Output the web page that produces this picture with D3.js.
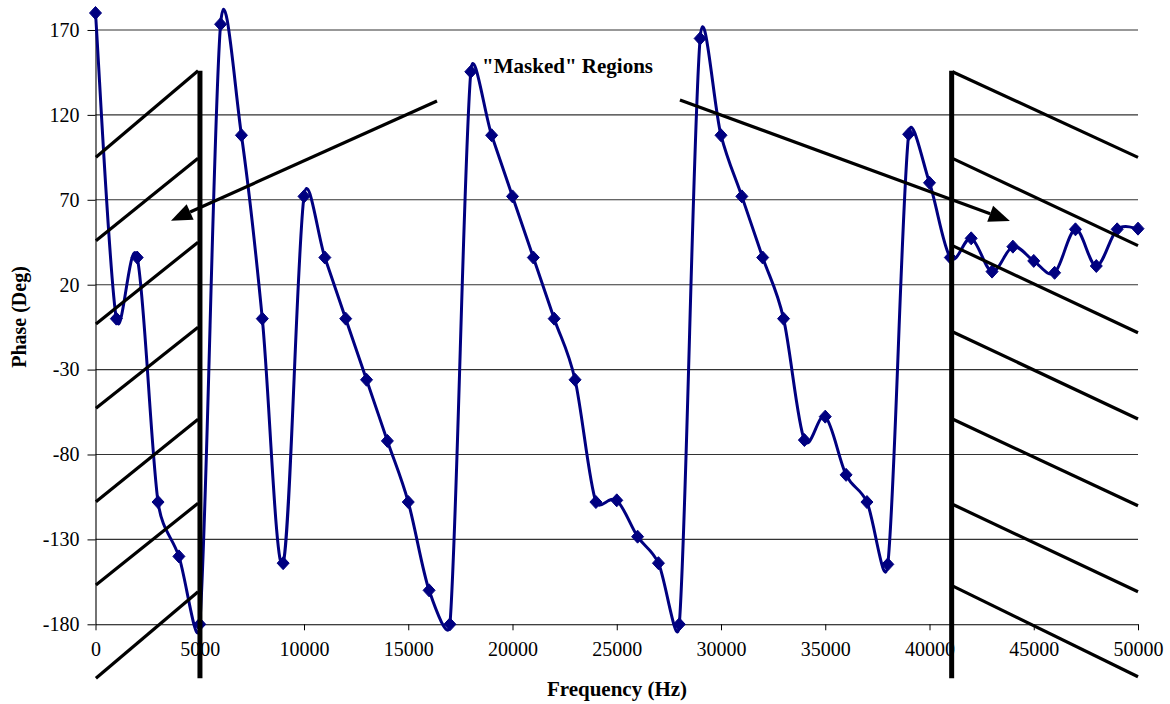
<!DOCTYPE html>
<html>
<head>
<meta charset="utf-8">
<script src="https://cdn.jsdelivr.net/npm/d3@7"></script>
<style>
  html, body { margin: 0; padding: 0; background: #fff; }
  svg { display: block; }
  text { font-family: "Liberation Serif", "Times New Roman", serif; fill: #000; }
</style>
</head>
<body>
<svg id="chart" width="1170" height="704"></svg>
<script>
// ---- Data ----
const frequencies = d3.range(0, 50001, 1000);
const phase = [
  180, 0, 36, -108, -140, -180, 173.4, 108, 0, -144,
  72, 36, 0, -36, -72, -108, -160, -180, 145.4, 108,
  72, 36, 0, -36, -108, -107, -128.4, -144, -180, 165,
  108, 72, 36, 0, -71.5, -57.7, -92, -108, -144.7, 108.6,
  80, 36, 47.3, 27.7, 42.4, 34, 27, 52.6, 31, 52.6,
  53
];
const xTicks = [0, 5000, 10000, 15000, 20000, 25000, 30000, 35000, 40000, 45000, 50000];
const yTicks = [-180, -130, -80, -30, 20, 70, 120, 170];

// Annotation shapes, in data units (Hz, deg)
const maskDividers = [
  [[5010, 146], [5010, -211.8]],
  [[41063, 146], [41063, -211.8]]
];
const leftHatches = [
  [[20, 95.0], [4920, 146.0]],
  [[20, 45.9], [4920, 94.4]],
  [[20, -3.1], [4920, 45.0]],
  [[20, -52.8], [4920, -5.1]],
  [[20, -107.8], [4920, -59.3]],
  [[20, -156.9], [4920, -108.7]],
  [[20, -211.8], [4920, -160.8]]
];
const rightHatches = [
  [[41100, 145.4], [50000, 95.0]],
  [[41100, 94.4], [50000, 43.0]],
  [[41100, 43.0], [50000, -8.3]],
  [[41100, -7.7], [50000, -59.1]],
  [[41100, -59.1], [50000, -110.2]],
  [[41100, -109.3], [50000, -160.8]],
  [[41100, -157.4], [50000, -210.9]]
];
const arrows = [
  [[16378, 128.2], [3621, 57.7]],
  [[28032, 128.8], [43856, 57.5]]
];
const annotationText = '"Masked" Regions';
const annotationPos = [22640, 144.9];

// ---- Layout ----
const svg = d3.select("#chart");
const x = d3.scaleLinear().domain([0, 50000]).range([95.5, 1138]);
const y = d3.scaleLinear().domain([-180, 180]).range([624.3, 13]);
const navy = "#000080";

// Gridlines
svg.append("g")
  .selectAll("line")
  .data(yTicks.filter(d => d > -180))
  .join("line")
  .attr("x1", x(0)).attr("x2", x(50000))
  .attr("y1", d => y(d)).attr("y2", d => y(d))
  .attr("stroke", "#333").attr("stroke-width", 1.1);

// X axis
const xAxis = svg.append("g")
  .attr("transform", `translate(0,${y(-180)})`)
  .call(d3.axisBottom(x).tickValues(xTicks).tickFormat(d => String(d)).tickSize(6).tickSizeOuter(0).tickPadding(12));
xAxis.select(".domain").attr("stroke", "#000").attr("stroke-width", 1.1);
xAxis.selectAll(".tick line").attr("stroke", "#000");
xAxis.selectAll("text").attr("font-size", 20).attr("font-family", "Liberation Serif").attr("fill", "#000");

// Y axis
const yAxis = svg.append("g")
  .attr("transform", `translate(${x(0)},0)`)
  .call(d3.axisLeft(y).tickValues(yTicks).tickFormat(d => String(d)).tickSize(8).tickSizeOuter(0).tickPadding(8));
yAxis.select(".domain").attr("stroke", "#000").attr("stroke-width", 1.1);
yAxis.selectAll(".tick line").attr("stroke", "#000");
yAxis.selectAll("text").attr("font-size", 20).attr("font-family", "Liberation Serif").attr("fill", "#000");

// Axis titles
svg.append("text")
  .attr("x", 617).attr("y", 696)
  .attr("text-anchor", "middle")
  .attr("font-size", 21).attr("font-weight", "bold")
  .text("Frequency (Hz)");
svg.append("text")
  .attr("transform", "translate(26,317) rotate(-90)")
  .attr("text-anchor", "middle")
  .attr("font-size", 20).attr("font-weight", "bold")
  .text("Phase (Deg)");

// Series line: Excel-style smoothed Bezier (tension 1/6, arm limited to half the segment)
const pts = frequencies.map((f, i) => [f, phase[i]]);
const P = pts.map(d => [x(d[0]), y(d[1])]);
const n = P.length;
const T = P.map((p, i) => {
  const a = P[Math.max(i - 1, 0)], b = P[Math.min(i + 1, n - 1)];
  return [b[0] - a[0], b[1] - a[1]];
});
const smooth = d3.path();
smooth.moveTo(P[0][0], P[0][1]);
for (let i = 0; i < n - 1; i++) {
  const d = Math.hypot(P[i + 1][0] - P[i][0], P[i + 1][1] - P[i][1]);
  const l1 = Math.hypot(T[i][0], T[i][1]) || 1;
  const l2 = Math.hypot(T[i + 1][0], T[i + 1][1]) || 1;
  const f1 = Math.min(1 / 6, 0.5 * d / l1);
  const f2 = Math.min(1 / 6, 0.5 * d / l2);
  smooth.bezierCurveTo(
    P[i][0] + T[i][0] * f1, P[i][1] + T[i][1] * f1,
    P[i + 1][0] - T[i + 1][0] * f2, P[i + 1][1] - T[i + 1][1] * f2,
    P[i + 1][0], P[i + 1][1]);
}
svg.append("path")
  .attr("fill", "none")
  .attr("stroke", navy)
  .attr("stroke-width", 3)
  .attr("stroke-linejoin", "round")
  .attr("d", smooth.toString());

// Markers (diamonds)
const diamond = "M0,-6.5L6,0L0,6.5L-6,0Z";
svg.append("g")
  .selectAll("path")
  .data(pts)
  .join("path")
  .attr("transform", d => `translate(${x(d[0])},${y(d[1])})`)
  .attr("d", diamond)
  .attr("fill", navy)
  .attr("stroke", navy)
  .attr("stroke-width", 1);

// Annotations
const ann = svg.append("g");
const seg = d => `M${x(d[0][0])},${y(d[0][1])}L${x(d[1][0])},${y(d[1][1])}`;
ann.selectAll(".hatch")
  .data(leftHatches.concat(rightHatches))
  .join("path")
  .attr("d", seg)
  .attr("stroke", "#000").attr("stroke-width", 3.2).attr("fill", "none");
ann.selectAll(".divider")
  .data(maskDividers)
  .join("path")
  .attr("d", seg)
  .attr("stroke", "#000").attr("stroke-width", 5).attr("fill", "none");

arrows.forEach(a => {
  const x1 = x(a[0][0]), y1 = y(a[0][1]), x2 = x(a[1][0]), y2 = y(a[1][1]);
  const ang = Math.atan2(y2 - y1, x2 - x1);
  const headLen = 21, headW = 8.5;
  const bx = x2 - headLen * Math.cos(ang), by = y2 - headLen * Math.sin(ang);
  ann.append("path")
    .attr("d", `M${x1},${y1}L${bx},${by}`)
    .attr("stroke", "#000").attr("stroke-width", 3.2).attr("fill", "none");
  const px = -Math.sin(ang) * headW, py = Math.cos(ang) * headW;
  ann.append("path")
    .attr("d", `M${x2},${y2}L${bx + px},${by + py}L${bx - px},${by - py}Z`)
    .attr("fill", "#000");
});

ann.append("text")
  .attr("x", x(annotationPos[0])).attr("y", y(annotationPos[1]))
  .attr("text-anchor", "middle")
  .attr("font-size", 21).attr("font-weight", "bold")
  .text(annotationText);
</script>
</body>
</html>
